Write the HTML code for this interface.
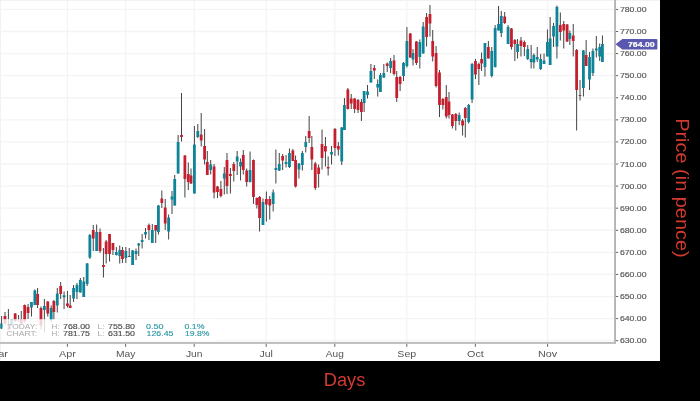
<!DOCTYPE html>
<html><head><meta charset="utf-8"><title>Chart</title>
<style>
html,body{margin:0;padding:0;background:#000;}
body{width:700px;height:401px;overflow:hidden;position:relative;font-family:"Liberation Sans",sans-serif;}
svg{position:absolute;left:0;top:0;display:block;}
.ax{font-family:"Liberation Sans",sans-serif;font-size:7px;fill:#555;stroke:#555;stroke-width:0.15px;}
.mo{font-family:"Liberation Sans",sans-serif;font-size:9.6px;fill:#555;}
.ttl{font-family:"Liberation Sans",sans-serif;font-size:18px;fill:#d23a30;}
.inf{font-family:"Liberation Sans",sans-serif;font-size:6.5px;}
.num{stroke-width:0.12px;}
</style></head><body>
<svg width="700" height="401" viewBox="0 0 700 401">
<rect x="0" y="0" width="700" height="401" fill="#000"/>
<rect x="0" y="0" width="660" height="361" fill="#fff"/>
<rect x="0" y="0" width="660" height="0.8" fill="#efefef"/>
<rect x="0" y="0" width="0.7" height="361" fill="#ececec"/>

<line x1="0" x2="614" y1="340.70" y2="340.70" stroke="#f4f4f4" stroke-width="1.3"/>
<line x1="0" x2="614" y1="318.62" y2="318.62" stroke="#f4f4f4" stroke-width="1.3"/>
<line x1="0" x2="614" y1="296.53" y2="296.53" stroke="#f4f4f4" stroke-width="1.3"/>
<line x1="0" x2="614" y1="274.44" y2="274.44" stroke="#f4f4f4" stroke-width="1.3"/>
<line x1="0" x2="614" y1="252.36" y2="252.36" stroke="#f4f4f4" stroke-width="1.3"/>
<line x1="0" x2="614" y1="230.27" y2="230.27" stroke="#f4f4f4" stroke-width="1.3"/>
<line x1="0" x2="614" y1="208.18" y2="208.18" stroke="#f4f4f4" stroke-width="1.3"/>
<line x1="0" x2="614" y1="186.10" y2="186.10" stroke="#f4f4f4" stroke-width="1.3"/>
<line x1="0" x2="614" y1="164.01" y2="164.01" stroke="#f4f4f4" stroke-width="1.3"/>
<line x1="0" x2="614" y1="141.92" y2="141.92" stroke="#f4f4f4" stroke-width="1.3"/>
<line x1="0" x2="614" y1="119.83" y2="119.83" stroke="#f4f4f4" stroke-width="1.3"/>
<line x1="0" x2="614" y1="97.75" y2="97.75" stroke="#f4f4f4" stroke-width="1.3"/>
<line x1="0" x2="614" y1="75.66" y2="75.66" stroke="#f4f4f4" stroke-width="1.3"/>
<line x1="0" x2="614" y1="53.57" y2="53.57" stroke="#f4f4f4" stroke-width="1.3"/>
<line x1="0" x2="614" y1="31.49" y2="31.49" stroke="#f4f4f4" stroke-width="1.3"/>
<line x1="0" x2="614" y1="9.40" y2="9.40" stroke="#f4f4f4" stroke-width="1.3"/>
<line x1="67.4" x2="67.4" y1="0" y2="342" stroke="#f4f4f4" stroke-width="1.3"/>
<line x1="125.6" x2="125.6" y1="0" y2="342" stroke="#f4f4f4" stroke-width="1.3"/>
<line x1="194.2" x2="194.2" y1="0" y2="342" stroke="#f4f4f4" stroke-width="1.3"/>
<line x1="266.2" x2="266.2" y1="0" y2="342" stroke="#f4f4f4" stroke-width="1.3"/>
<line x1="334.8" x2="334.8" y1="0" y2="342" stroke="#f4f4f4" stroke-width="1.3"/>
<line x1="406.8" x2="406.8" y1="0" y2="342" stroke="#f4f4f4" stroke-width="1.3"/>
<line x1="475.4" x2="475.4" y1="0" y2="342" stroke="#f4f4f4" stroke-width="1.3"/>
<line x1="547.6" x2="547.6" y1="0" y2="342" stroke="#f4f4f4" stroke-width="1.3"/>
<rect x="1.10" y="316.0" width="1" height="13.0" fill="#444"/>
<rect x="0.20" y="323.5" width="2.8" height="5.0" fill="#0f8397"/>
<rect x="4.49" y="312.0" width="1" height="12.0" fill="#444"/>
<rect x="3.59" y="316.0" width="2.8" height="7.5" fill="#c41f2e"/>
<rect x="7.89" y="309.0" width="1" height="21.0" fill="#444"/>
<rect x="6.99" y="328.5" width="2.8" height="1.0" fill="#c41f2e"/>
<rect x="11.28" y="319.0" width="1" height="7.0" fill="#444"/>
<rect x="10.38" y="319.3" width="2.8" height="4.7" fill="#0f8397"/>
<rect x="14.67" y="313.0" width="1" height="9.0" fill="#444"/>
<rect x="13.77" y="313.5" width="2.8" height="7.5" fill="#c41f2e"/>
<rect x="18.07" y="315.0" width="1" height="6.5" fill="#444"/>
<rect x="20.78" y="311.0" width="1" height="13.0" fill="#444"/>
<rect x="19.88" y="319.5" width="2.8" height="4.0" fill="#c41f2e"/>
<rect x="24.18" y="304.5" width="1" height="17.5" fill="#444"/>
<rect x="23.28" y="305.0" width="2.8" height="16.5" fill="#c41f2e"/>
<rect x="27.57" y="304.0" width="1" height="15.0" fill="#444"/>
<rect x="26.67" y="307.0" width="2.8" height="6.0" fill="#c41f2e"/>
<rect x="30.97" y="302.0" width="1" height="14.5" fill="#444"/>
<rect x="30.07" y="302.0" width="2.8" height="5.5" fill="#0f8397"/>
<rect x="34.36" y="289.5" width="1" height="15.5" fill="#444"/>
<rect x="33.46" y="290.5" width="2.8" height="14.5" fill="#0f8397"/>
<rect x="37.08" y="288.0" width="1" height="20.0" fill="#444"/>
<rect x="36.18" y="294.0" width="2.8" height="11.0" fill="#c41f2e"/>
<rect x="40.47" y="306.5" width="1" height="23.0" fill="#444"/>
<rect x="39.57" y="308.0" width="2.8" height="17.5" fill="#c41f2e"/>
<rect x="43.87" y="299.0" width="1" height="33.0" fill="#444"/>
<rect x="42.97" y="306.0" width="2.8" height="4.0" fill="#0f8397"/>
<rect x="47.26" y="301.0" width="1" height="15.5" fill="#444"/>
<rect x="46.36" y="301.5" width="2.8" height="12.0" fill="#c41f2e"/>
<rect x="50.66" y="305.5" width="1" height="16.5" fill="#444"/>
<rect x="49.76" y="308.0" width="2.8" height="12.0" fill="#0f8397"/>
<rect x="53.37" y="300.0" width="1" height="19.5" fill="#444"/>
<rect x="52.47" y="301.0" width="2.8" height="11.0" fill="#c41f2e"/>
<rect x="56.77" y="288.0" width="1" height="24.5" fill="#444"/>
<rect x="55.87" y="293.5" width="2.8" height="12.0" fill="#0f8397"/>
<rect x="60.16" y="282.0" width="1" height="17.0" fill="#444"/>
<rect x="59.26" y="286.0" width="2.8" height="8.0" fill="#c41f2e"/>
<rect x="63.56" y="291.5" width="1" height="17.5" fill="#444"/>
<rect x="62.66" y="295.3" width="2.8" height="2.0" fill="#0f8397"/>
<rect x="66.95" y="291.0" width="1" height="16.5" fill="#444"/>
<rect x="66.05" y="303.5" width="2.8" height="2.5" fill="#c41f2e"/>
<rect x="69.67" y="295.0" width="1" height="13.0" fill="#444"/>
<rect x="68.77" y="305.5" width="2.8" height="2.5" fill="#c41f2e"/>
<rect x="73.06" y="285.0" width="1" height="17.0" fill="#444"/>
<rect x="72.16" y="288.0" width="2.8" height="10.5" fill="#0f8397"/>
<rect x="76.45" y="283.0" width="1" height="16.0" fill="#444"/>
<rect x="75.55" y="285.0" width="2.8" height="7.0" fill="#0f8397"/>
<rect x="79.85" y="278.0" width="1" height="14.5" fill="#444"/>
<rect x="78.95" y="280.0" width="2.8" height="12.5" fill="#0f8397"/>
<rect x="83.24" y="277.0" width="1" height="20.0" fill="#444"/>
<rect x="82.34" y="281.5" width="2.8" height="15.5" fill="#0f8397"/>
<rect x="86.64" y="263.0" width="1" height="23.0" fill="#444"/>
<rect x="85.74" y="263.5" width="2.8" height="20.5" fill="#0f8397"/>
<rect x="89.35" y="234.0" width="1" height="25.0" fill="#444"/>
<rect x="88.45" y="235.0" width="2.8" height="22.5" fill="#0f8397"/>
<rect x="92.75" y="225.0" width="1" height="26.0" fill="#444"/>
<rect x="91.85" y="230.0" width="2.8" height="8.5" fill="#c41f2e"/>
<rect x="96.14" y="224.5" width="1" height="26.5" fill="#444"/>
<rect x="95.24" y="232.0" width="2.8" height="19.0" fill="#0f8397"/>
<rect x="99.54" y="228.5" width="1" height="24.5" fill="#444"/>
<rect x="98.64" y="232.0" width="2.8" height="19.0" fill="#c41f2e"/>
<rect x="102.93" y="248.0" width="1" height="29.5" fill="#444"/>
<rect x="102.03" y="265.0" width="2.8" height="2.0" fill="#c41f2e"/>
<rect x="105.65" y="240.0" width="1" height="23.5" fill="#444"/>
<rect x="104.75" y="241.5" width="2.8" height="12.5" fill="#c41f2e"/>
<rect x="109.04" y="234.0" width="1" height="27.5" fill="#444"/>
<rect x="108.14" y="234.0" width="2.8" height="20.0" fill="#c41f2e"/>
<rect x="112.44" y="243.0" width="1" height="12.0" fill="#444"/>
<rect x="111.54" y="243.0" width="2.8" height="7.0" fill="#c41f2e"/>
<rect x="115.83" y="247.0" width="1" height="8.5" fill="#444"/>
<rect x="114.93" y="252.0" width="2.8" height="3.0" fill="#0f8397"/>
<rect x="119.23" y="245.5" width="1" height="18.0" fill="#444"/>
<rect x="118.33" y="250.0" width="2.8" height="6.0" fill="#0f8397"/>
<rect x="121.94" y="247.0" width="1" height="16.0" fill="#444"/>
<rect x="121.04" y="250.0" width="2.8" height="9.0" fill="#c41f2e"/>
<rect x="125.34" y="247.0" width="1" height="16.0" fill="#444"/>
<rect x="124.44" y="251.0" width="2.8" height="7.0" fill="#0f8397"/>
<rect x="128.73" y="248.0" width="1" height="9.0" fill="#444"/>
<rect x="127.83" y="256.0" width="2.8" height="0.7" fill="#333"/>
<rect x="132.12" y="250.0" width="1" height="15.0" fill="#444"/>
<rect x="131.22" y="250.5" width="2.8" height="14.5" fill="#0f8397"/>
<rect x="135.52" y="248.5" width="1" height="11.5" fill="#444"/>
<rect x="134.62" y="251.0" width="2.8" height="3.0" fill="#0f8397"/>
<rect x="138.23" y="243.0" width="1" height="13.0" fill="#444"/>
<rect x="137.33" y="243.5" width="2.8" height="2.0" fill="#0f8397"/>
<rect x="141.63" y="234.0" width="1" height="14.5" fill="#444"/>
<rect x="140.73" y="240.0" width="2.8" height="2.0" fill="#0f8397"/>
<rect x="145.02" y="228.0" width="1" height="10.5" fill="#444"/>
<rect x="144.12" y="232.0" width="2.8" height="2.5" fill="#0f8397"/>
<rect x="148.42" y="223.5" width="1" height="16.5" fill="#444"/>
<rect x="147.52" y="225.0" width="2.8" height="5.0" fill="#c41f2e"/>
<rect x="151.81" y="224.0" width="1" height="19.0" fill="#444"/>
<rect x="150.91" y="230.0" width="2.8" height="13.0" fill="#0f8397"/>
<rect x="155.21" y="225.0" width="1" height="18.0" fill="#444"/>
<rect x="154.31" y="225.0" width="2.8" height="5.5" fill="#c41f2e"/>
<rect x="157.92" y="205.0" width="1" height="29.5" fill="#444"/>
<rect x="157.02" y="205.5" width="2.8" height="26.5" fill="#0f8397"/>
<rect x="161.32" y="190.5" width="1" height="17.5" fill="#444"/>
<rect x="160.42" y="198.5" width="2.8" height="4.5" fill="#c41f2e"/>
<rect x="164.71" y="199.0" width="1" height="31.0" fill="#444"/>
<rect x="163.81" y="207.5" width="2.8" height="16.0" fill="#c41f2e"/>
<rect x="168.11" y="214.5" width="1" height="25.0" fill="#444"/>
<rect x="167.21" y="217.5" width="2.8" height="14.0" fill="#0f8397"/>
<rect x="171.50" y="191.0" width="1" height="23.0" fill="#444"/>
<rect x="170.60" y="196.5" width="2.8" height="3.0" fill="#0f8397"/>
<rect x="174.22" y="175.0" width="1" height="30.5" fill="#444"/>
<rect x="173.32" y="179.0" width="2.8" height="26.5" fill="#0f8397"/>
<rect x="177.61" y="135.0" width="1" height="38.5" fill="#444"/>
<rect x="176.71" y="142.0" width="2.8" height="31.5" fill="#0f8397"/>
<rect x="181.01" y="93.0" width="1" height="48.5" fill="#444"/>
<rect x="180.11" y="135.0" width="2.8" height="2.0" fill="#c41f2e"/>
<rect x="184.40" y="155.0" width="1" height="42.5" fill="#444"/>
<rect x="183.50" y="155.5" width="2.8" height="23.5" fill="#c41f2e"/>
<rect x="187.79" y="162.5" width="1" height="27.5" fill="#444"/>
<rect x="186.89" y="174.0" width="2.8" height="8.0" fill="#c41f2e"/>
<rect x="190.51" y="168.5" width="1" height="15.5" fill="#444"/>
<rect x="189.61" y="175.5" width="2.8" height="8.0" fill="#c41f2e"/>
<rect x="193.90" y="126.0" width="1" height="67.5" fill="#444"/>
<rect x="193.00" y="144.5" width="2.8" height="49.0" fill="#0f8397"/>
<rect x="197.30" y="124.0" width="1" height="14.0" fill="#444"/>
<rect x="196.40" y="131.0" width="2.8" height="6.0" fill="#0f8397"/>
<rect x="200.69" y="113.0" width="1" height="33.5" fill="#444"/>
<rect x="199.79" y="134.5" width="2.8" height="6.0" fill="#c41f2e"/>
<rect x="204.09" y="129.0" width="1" height="35.5" fill="#444"/>
<rect x="203.19" y="146.0" width="2.8" height="13.5" fill="#c41f2e"/>
<rect x="206.80" y="151.0" width="1" height="24.0" fill="#444"/>
<rect x="205.90" y="162.0" width="2.8" height="13.0" fill="#c41f2e"/>
<rect x="210.20" y="160.0" width="1" height="14.5" fill="#444"/>
<rect x="209.30" y="164.5" width="2.8" height="5.5" fill="#0f8397"/>
<rect x="213.59" y="164.0" width="1" height="34.5" fill="#444"/>
<rect x="212.69" y="166.5" width="2.8" height="26.0" fill="#c41f2e"/>
<rect x="216.99" y="186.0" width="1" height="12.0" fill="#444"/>
<rect x="216.09" y="186.5" width="2.8" height="5.5" fill="#c41f2e"/>
<rect x="220.38" y="181.0" width="1" height="16.5" fill="#444"/>
<rect x="219.48" y="189.0" width="2.8" height="7.0" fill="#c41f2e"/>
<rect x="223.78" y="167.0" width="1" height="27.5" fill="#444"/>
<rect x="222.88" y="173.5" width="2.8" height="5.0" fill="#0f8397"/>
<rect x="226.49" y="153.0" width="1" height="41.0" fill="#444"/>
<rect x="225.59" y="160.0" width="2.8" height="26.0" fill="#c41f2e"/>
<rect x="229.89" y="168.0" width="1" height="25.5" fill="#444"/>
<rect x="228.99" y="174.0" width="2.8" height="2.0" fill="#c41f2e"/>
<rect x="233.28" y="162.0" width="1" height="19.5" fill="#444"/>
<rect x="232.38" y="164.0" width="2.8" height="7.0" fill="#c41f2e"/>
<rect x="236.68" y="151.0" width="1" height="24.0" fill="#444"/>
<rect x="235.78" y="156.5" width="2.8" height="5.0" fill="#0f8397"/>
<rect x="240.07" y="158.5" width="1" height="22.0" fill="#444"/>
<rect x="239.17" y="162.0" width="2.8" height="4.5" fill="#0f8397"/>
<rect x="242.79" y="150.0" width="1" height="24.5" fill="#444"/>
<rect x="241.89" y="155.0" width="2.8" height="15.0" fill="#c41f2e"/>
<rect x="246.18" y="168.5" width="1" height="18.0" fill="#444"/>
<rect x="245.28" y="170.5" width="2.8" height="11.5" fill="#c41f2e"/>
<rect x="249.57" y="151.5" width="1" height="31.0" fill="#444"/>
<rect x="248.67" y="170.0" width="2.8" height="12.0" fill="#0f8397"/>
<rect x="252.97" y="159.5" width="1" height="44.5" fill="#444"/>
<rect x="252.07" y="160.0" width="2.8" height="37.0" fill="#c41f2e"/>
<rect x="256.36" y="197.5" width="1" height="11.0" fill="#444"/>
<rect x="255.46" y="198.0" width="2.8" height="7.0" fill="#c41f2e"/>
<rect x="259.08" y="196.0" width="1" height="35.5" fill="#444"/>
<rect x="258.18" y="197.0" width="2.8" height="21.0" fill="#c41f2e"/>
<rect x="262.47" y="198.5" width="1" height="26.5" fill="#444"/>
<rect x="261.57" y="202.0" width="2.8" height="23.0" fill="#0f8397"/>
<rect x="265.87" y="191.5" width="1" height="30.0" fill="#444"/>
<rect x="264.97" y="199.0" width="2.8" height="5.5" fill="#c41f2e"/>
<rect x="269.26" y="196.0" width="1" height="23.5" fill="#444"/>
<rect x="268.36" y="199.0" width="2.8" height="6.5" fill="#c41f2e"/>
<rect x="272.66" y="189.5" width="1" height="22.0" fill="#444"/>
<rect x="271.76" y="192.5" width="2.8" height="11.5" fill="#0f8397"/>
<rect x="275.37" y="149.5" width="1" height="34.0" fill="#444"/>
<rect x="274.47" y="168.0" width="2.8" height="2.0" fill="#0f8397"/>
<rect x="278.77" y="153.0" width="1" height="18.0" fill="#444"/>
<rect x="277.87" y="164.0" width="2.8" height="6.5" fill="#0f8397"/>
<rect x="282.16" y="154.0" width="1" height="16.0" fill="#444"/>
<rect x="281.26" y="156.0" width="2.8" height="4.5" fill="#c41f2e"/>
<rect x="285.56" y="155.0" width="1" height="12.5" fill="#444"/>
<rect x="284.66" y="162.0" width="2.8" height="2.0" fill="#0f8397"/>
<rect x="288.95" y="148.5" width="1" height="19.5" fill="#444"/>
<rect x="288.05" y="153.0" width="2.8" height="14.0" fill="#0f8397"/>
<rect x="292.34" y="149.0" width="1" height="12.0" fill="#444"/>
<rect x="291.44" y="150.5" width="2.8" height="10.5" fill="#c41f2e"/>
<rect x="295.06" y="155.5" width="1" height="32.0" fill="#444"/>
<rect x="294.16" y="160.0" width="2.8" height="26.5" fill="#c41f2e"/>
<rect x="298.45" y="163.0" width="1" height="15.5" fill="#444"/>
<rect x="297.55" y="163.5" width="2.8" height="6.0" fill="#0f8397"/>
<rect x="301.85" y="151.0" width="1" height="19.5" fill="#444"/>
<rect x="300.95" y="153.0" width="2.8" height="12.0" fill="#0f8397"/>
<rect x="305.24" y="136.0" width="1" height="16.5" fill="#444"/>
<rect x="304.34" y="142.0" width="2.8" height="5.0" fill="#0f8397"/>
<rect x="308.64" y="116.0" width="1" height="27.0" fill="#444"/>
<rect x="307.74" y="131.0" width="2.8" height="7.0" fill="#c41f2e"/>
<rect x="311.35" y="136.0" width="1" height="34.0" fill="#444"/>
<rect x="310.45" y="147.0" width="2.8" height="12.5" fill="#c41f2e"/>
<rect x="314.75" y="162.0" width="1" height="28.0" fill="#444"/>
<rect x="313.85" y="163.5" width="2.8" height="24.5" fill="#c41f2e"/>
<rect x="318.14" y="164.5" width="1" height="23.0" fill="#444"/>
<rect x="317.24" y="167.5" width="2.8" height="6.5" fill="#c41f2e"/>
<rect x="321.54" y="129.5" width="1" height="40.0" fill="#444"/>
<rect x="320.64" y="144.0" width="2.8" height="14.0" fill="#c41f2e"/>
<rect x="324.93" y="137.0" width="1" height="29.5" fill="#444"/>
<rect x="324.03" y="146.0" width="2.8" height="5.5" fill="#c41f2e"/>
<rect x="327.65" y="156.5" width="1" height="19.0" fill="#444"/>
<rect x="326.75" y="167.0" width="2.8" height="1.5" fill="#c41f2e"/>
<rect x="331.04" y="146.0" width="1" height="18.5" fill="#444"/>
<rect x="330.14" y="152.0" width="2.8" height="2.5" fill="#0f8397"/>
<rect x="334.44" y="128.0" width="1" height="28.0" fill="#444"/>
<rect x="333.54" y="129.0" width="2.8" height="19.0" fill="#c41f2e"/>
<rect x="337.83" y="142.0" width="1" height="13.5" fill="#444"/>
<rect x="336.93" y="146.0" width="2.8" height="3.5" fill="#c41f2e"/>
<rect x="341.23" y="127.0" width="1" height="38.0" fill="#444"/>
<rect x="340.33" y="127.5" width="2.8" height="34.0" fill="#0f8397"/>
<rect x="343.94" y="98.0" width="1" height="32.0" fill="#444"/>
<rect x="343.04" y="105.0" width="2.8" height="25.0" fill="#0f8397"/>
<rect x="347.34" y="88.0" width="1" height="21.5" fill="#444"/>
<rect x="346.44" y="89.5" width="2.8" height="19.5" fill="#c41f2e"/>
<rect x="350.73" y="94.0" width="1" height="15.0" fill="#444"/>
<rect x="349.83" y="98.5" width="2.8" height="5.0" fill="#c41f2e"/>
<rect x="354.12" y="98.0" width="1" height="15.0" fill="#444"/>
<rect x="353.22" y="98.5" width="2.8" height="10.5" fill="#c41f2e"/>
<rect x="357.52" y="99.0" width="1" height="14.0" fill="#444"/>
<rect x="356.62" y="100.0" width="2.8" height="10.0" fill="#c41f2e"/>
<rect x="360.91" y="99.0" width="1" height="22.0" fill="#444"/>
<rect x="360.01" y="102.0" width="2.8" height="10.0" fill="#c41f2e"/>
<rect x="363.63" y="91.0" width="1" height="21.0" fill="#444"/>
<rect x="362.73" y="91.0" width="2.8" height="12.0" fill="#0f8397"/>
<rect x="367.02" y="85.0" width="1" height="13.5" fill="#444"/>
<rect x="366.12" y="91.5" width="2.8" height="3.5" fill="#0f8397"/>
<rect x="370.42" y="64.0" width="1" height="18.5" fill="#444"/>
<rect x="369.52" y="71.0" width="2.8" height="11.5" fill="#0f8397"/>
<rect x="373.81" y="65.0" width="1" height="14.0" fill="#444"/>
<rect x="372.91" y="68.0" width="2.8" height="2.5" fill="#c41f2e"/>
<rect x="377.21" y="79.5" width="1" height="17.0" fill="#444"/>
<rect x="376.31" y="84.0" width="2.8" height="3.5" fill="#0f8397"/>
<rect x="379.92" y="73.0" width="1" height="19.0" fill="#444"/>
<rect x="379.02" y="75.0" width="2.8" height="17.0" fill="#0f8397"/>
<rect x="383.32" y="64.0" width="1" height="14.0" fill="#444"/>
<rect x="382.42" y="73.0" width="2.8" height="4.5" fill="#0f8397"/>
<rect x="386.71" y="62.5" width="1" height="9.5" fill="#444"/>
<rect x="385.81" y="63.5" width="2.8" height="2.5" fill="#c41f2e"/>
<rect x="390.11" y="58.0" width="1" height="15.0" fill="#444"/>
<rect x="389.21" y="61.0" width="2.8" height="7.0" fill="#0f8397"/>
<rect x="393.50" y="55.0" width="1" height="20.5" fill="#444"/>
<rect x="392.60" y="60.5" width="2.8" height="13.5" fill="#c41f2e"/>
<rect x="396.22" y="71.0" width="1" height="31.0" fill="#444"/>
<rect x="395.32" y="77.0" width="2.8" height="21.0" fill="#c41f2e"/>
<rect x="399.61" y="76.0" width="1" height="15.0" fill="#444"/>
<rect x="398.71" y="77.0" width="2.8" height="7.0" fill="#c41f2e"/>
<rect x="403.01" y="62.0" width="1" height="19.0" fill="#444"/>
<rect x="402.11" y="63.0" width="2.8" height="13.0" fill="#0f8397"/>
<rect x="406.40" y="27.0" width="1" height="40.5" fill="#444"/>
<rect x="405.50" y="41.0" width="2.8" height="25.0" fill="#0f8397"/>
<rect x="409.79" y="33.0" width="1" height="25.0" fill="#444"/>
<rect x="408.89" y="33.5" width="2.8" height="24.0" fill="#c41f2e"/>
<rect x="412.51" y="49.0" width="1" height="16.5" fill="#444"/>
<rect x="411.61" y="53.0" width="2.8" height="6.5" fill="#0f8397"/>
<rect x="415.90" y="41.0" width="1" height="24.0" fill="#444"/>
<rect x="415.00" y="41.5" width="2.8" height="21.5" fill="#c41f2e"/>
<rect x="419.30" y="39.5" width="1" height="29.0" fill="#444"/>
<rect x="418.40" y="42.0" width="2.8" height="15.0" fill="#0f8397"/>
<rect x="422.69" y="22.0" width="1" height="31.5" fill="#444"/>
<rect x="421.79" y="26.5" width="2.8" height="27.0" fill="#0f8397"/>
<rect x="426.09" y="13.0" width="1" height="33.5" fill="#444"/>
<rect x="425.19" y="17.0" width="2.8" height="20.0" fill="#c41f2e"/>
<rect x="429.48" y="5.0" width="1" height="31.5" fill="#444"/>
<rect x="428.58" y="14.0" width="2.8" height="9.5" fill="#c41f2e"/>
<rect x="432.20" y="30.0" width="1" height="31.5" fill="#444"/>
<rect x="431.30" y="41.0" width="2.8" height="15.5" fill="#c41f2e"/>
<rect x="435.59" y="46.0" width="1" height="41.5" fill="#444"/>
<rect x="434.69" y="53.0" width="2.8" height="33.0" fill="#c41f2e"/>
<rect x="438.99" y="70.0" width="1" height="47.0" fill="#444"/>
<rect x="438.09" y="72.5" width="2.8" height="32.5" fill="#c41f2e"/>
<rect x="442.38" y="98.0" width="1" height="11.5" fill="#444"/>
<rect x="441.48" y="99.0" width="2.8" height="6.0" fill="#c41f2e"/>
<rect x="445.78" y="85.0" width="1" height="33.5" fill="#444"/>
<rect x="444.88" y="97.0" width="2.8" height="19.5" fill="#c41f2e"/>
<rect x="448.49" y="92.0" width="1" height="26.5" fill="#444"/>
<rect x="447.59" y="101.5" width="2.8" height="13.5" fill="#c41f2e"/>
<rect x="451.89" y="114.0" width="1" height="14.5" fill="#444"/>
<rect x="450.99" y="114.5" width="2.8" height="11.5" fill="#c41f2e"/>
<rect x="455.28" y="113.0" width="1" height="17.5" fill="#444"/>
<rect x="454.38" y="114.0" width="2.8" height="7.0" fill="#c41f2e"/>
<rect x="458.68" y="112.5" width="1" height="12.5" fill="#444"/>
<rect x="457.78" y="115.0" width="2.8" height="6.0" fill="#0f8397"/>
<rect x="462.07" y="119.0" width="1" height="16.5" fill="#444"/>
<rect x="461.17" y="120.5" width="2.8" height="5.0" fill="#c41f2e"/>
<rect x="464.79" y="107.0" width="1" height="30.5" fill="#444"/>
<rect x="463.89" y="108.0" width="2.8" height="10.0" fill="#c41f2e"/>
<rect x="468.18" y="104.0" width="1" height="19.5" fill="#444"/>
<rect x="467.28" y="105.0" width="2.8" height="17.0" fill="#0f8397"/>
<rect x="471.57" y="63.0" width="1" height="40.0" fill="#444"/>
<rect x="470.67" y="64.0" width="2.8" height="35.5" fill="#0f8397"/>
<rect x="474.97" y="59.0" width="1" height="20.0" fill="#444"/>
<rect x="474.07" y="61.0" width="2.8" height="13.5" fill="#c41f2e"/>
<rect x="478.36" y="62.5" width="1" height="22.5" fill="#444"/>
<rect x="477.46" y="64.0" width="2.8" height="5.0" fill="#c41f2e"/>
<rect x="481.08" y="52.5" width="1" height="18.5" fill="#444"/>
<rect x="480.18" y="59.0" width="2.8" height="4.5" fill="#c41f2e"/>
<rect x="484.47" y="43.0" width="1" height="33.5" fill="#444"/>
<rect x="483.57" y="43.0" width="2.8" height="24.0" fill="#0f8397"/>
<rect x="487.87" y="41.0" width="1" height="17.5" fill="#444"/>
<rect x="486.97" y="47.0" width="2.8" height="11.5" fill="#c41f2e"/>
<rect x="491.26" y="47.0" width="1" height="30.5" fill="#444"/>
<rect x="490.36" y="51.0" width="2.8" height="25.0" fill="#0f8397"/>
<rect x="494.66" y="25.0" width="1" height="42.5" fill="#444"/>
<rect x="493.76" y="28.0" width="2.8" height="39.0" fill="#0f8397"/>
<rect x="498.05" y="6.0" width="1" height="24.5" fill="#444"/>
<rect x="497.15" y="24.0" width="2.8" height="6.5" fill="#0f8397"/>
<rect x="500.77" y="11.0" width="1" height="26.0" fill="#444"/>
<rect x="499.87" y="16.0" width="2.8" height="17.0" fill="#0f8397"/>
<rect x="504.16" y="12.0" width="1" height="12.0" fill="#444"/>
<rect x="503.26" y="16.5" width="2.8" height="6.5" fill="#c41f2e"/>
<rect x="507.56" y="25.0" width="1" height="19.0" fill="#444"/>
<rect x="506.66" y="27.0" width="2.8" height="17.0" fill="#0f8397"/>
<rect x="510.95" y="28.0" width="1" height="21.5" fill="#444"/>
<rect x="510.05" y="28.5" width="2.8" height="18.5" fill="#c41f2e"/>
<rect x="514.35" y="39.0" width="1" height="22.0" fill="#444"/>
<rect x="513.45" y="40.0" width="2.8" height="4.0" fill="#c41f2e"/>
<rect x="517.06" y="39.0" width="1" height="19.5" fill="#444"/>
<rect x="516.16" y="44.0" width="2.8" height="8.0" fill="#0f8397"/>
<rect x="520.46" y="37.0" width="1" height="19.5" fill="#444"/>
<rect x="519.56" y="40.5" width="2.8" height="5.5" fill="#c41f2e"/>
<rect x="523.85" y="40.5" width="1" height="15.5" fill="#444"/>
<rect x="522.95" y="42.0" width="2.8" height="5.0" fill="#c41f2e"/>
<rect x="527.24" y="45.0" width="1" height="15.0" fill="#444"/>
<rect x="526.34" y="49.0" width="2.8" height="10.0" fill="#0f8397"/>
<rect x="530.64" y="45.0" width="1" height="23.5" fill="#444"/>
<rect x="529.74" y="59.0" width="2.8" height="3.0" fill="#0f8397"/>
<rect x="533.35" y="53.5" width="1" height="15.0" fill="#444"/>
<rect x="532.45" y="55.0" width="2.8" height="7.5" fill="#0f8397"/>
<rect x="536.75" y="47.0" width="1" height="15.0" fill="#444"/>
<rect x="535.85" y="57.0" width="2.8" height="2.5" fill="#0f8397"/>
<rect x="540.14" y="54.0" width="1" height="16.0" fill="#444"/>
<rect x="539.24" y="59.0" width="2.8" height="10.0" fill="#0f8397"/>
<rect x="543.54" y="53.5" width="1" height="10.5" fill="#444"/>
<rect x="542.64" y="60.5" width="2.8" height="3.5" fill="#0f8397"/>
<rect x="546.93" y="29.5" width="1" height="27.0" fill="#444"/>
<rect x="546.03" y="42.0" width="2.8" height="14.5" fill="#0f8397"/>
<rect x="549.65" y="17.0" width="1" height="48.0" fill="#444"/>
<rect x="548.75" y="38.5" width="2.8" height="26.5" fill="#0f8397"/>
<rect x="553.04" y="23.0" width="1" height="24.0" fill="#444"/>
<rect x="552.14" y="26.0" width="2.8" height="10.5" fill="#0f8397"/>
<rect x="556.44" y="5.5" width="1" height="53.0" fill="#444"/>
<rect x="555.54" y="7.0" width="2.8" height="39.5" fill="#0f8397"/>
<rect x="559.83" y="12.5" width="1" height="28.0" fill="#444"/>
<rect x="558.93" y="25.0" width="2.8" height="7.0" fill="#c41f2e"/>
<rect x="563.23" y="21.0" width="1" height="27.5" fill="#444"/>
<rect x="562.33" y="24.0" width="2.8" height="6.5" fill="#c41f2e"/>
<rect x="566.62" y="24.0" width="1" height="18.0" fill="#444"/>
<rect x="565.72" y="24.5" width="2.8" height="17.0" fill="#c41f2e"/>
<rect x="569.34" y="30.5" width="1" height="14.5" fill="#444"/>
<rect x="568.44" y="33.0" width="2.8" height="6.0" fill="#0f8397"/>
<rect x="572.73" y="24.0" width="1" height="32.5" fill="#444"/>
<rect x="571.83" y="35.5" width="2.8" height="5.5" fill="#c41f2e"/>
<rect x="576.12" y="49.0" width="1" height="81.5" fill="#444"/>
<rect x="575.22" y="50.0" width="2.8" height="40.0" fill="#c41f2e"/>
<rect x="579.52" y="80.0" width="1" height="20.5" fill="#444"/>
<rect x="578.62" y="95.2" width="2.8" height="0.7" fill="#333"/>
<rect x="582.91" y="50.0" width="1" height="46.5" fill="#444"/>
<rect x="582.01" y="50.5" width="2.8" height="37.5" fill="#0f8397"/>
<rect x="585.63" y="40.0" width="1" height="26.0" fill="#444"/>
<rect x="584.73" y="55.0" width="2.8" height="11.0" fill="#c41f2e"/>
<rect x="589.02" y="52.0" width="1" height="38.0" fill="#444"/>
<rect x="588.12" y="57.0" width="2.8" height="22.5" fill="#0f8397"/>
<rect x="592.42" y="48.5" width="1" height="27.5" fill="#444"/>
<rect x="591.52" y="51.0" width="2.8" height="22.0" fill="#0f8397"/>
<rect x="595.81" y="36.0" width="1" height="21.5" fill="#444"/>
<rect x="594.91" y="48.5" width="2.8" height="2.0" fill="#0f8397"/>
<rect x="599.21" y="43.5" width="1" height="17.5" fill="#444"/>
<rect x="598.31" y="47.0" width="2.8" height="9.5" fill="#0f8397"/>
<rect x="601.92" y="35.5" width="1" height="26.5" fill="#444"/>
<rect x="601.02" y="44.0" width="2.8" height="18.0" fill="#0f8397"/>
<rect x="2.4" y="319.2" width="215" height="22" fill="#fff" opacity="0.8"/>
<rect x="614.1" y="0" width="1.9" height="343.9" fill="#b4b4b4"/>
<rect x="0" y="342" width="616" height="1.9" fill="#bcbcbc"/>
<line x1="616" x2="618.2" y1="340.70" y2="340.70" stroke="#555" stroke-width="0.9"/>
<text class="ax" x="619.9" y="343.25" textLength="26.6" lengthAdjust="spacingAndGlyphs">630.00</text>
<line x1="616" x2="618.2" y1="318.62" y2="318.62" stroke="#555" stroke-width="0.9"/>
<text class="ax" x="619.9" y="321.17" textLength="26.6" lengthAdjust="spacingAndGlyphs">640.00</text>
<line x1="616" x2="618.2" y1="296.53" y2="296.53" stroke="#555" stroke-width="0.9"/>
<text class="ax" x="619.9" y="299.08" textLength="26.6" lengthAdjust="spacingAndGlyphs">650.00</text>
<line x1="616" x2="618.2" y1="274.44" y2="274.44" stroke="#555" stroke-width="0.9"/>
<text class="ax" x="619.9" y="276.99" textLength="26.6" lengthAdjust="spacingAndGlyphs">660.00</text>
<line x1="616" x2="618.2" y1="252.36" y2="252.36" stroke="#555" stroke-width="0.9"/>
<text class="ax" x="619.9" y="254.91" textLength="26.6" lengthAdjust="spacingAndGlyphs">670.00</text>
<line x1="616" x2="618.2" y1="230.27" y2="230.27" stroke="#555" stroke-width="0.9"/>
<text class="ax" x="619.9" y="232.82" textLength="26.6" lengthAdjust="spacingAndGlyphs">680.00</text>
<line x1="616" x2="618.2" y1="208.18" y2="208.18" stroke="#555" stroke-width="0.9"/>
<text class="ax" x="619.9" y="210.73" textLength="26.6" lengthAdjust="spacingAndGlyphs">690.00</text>
<line x1="616" x2="618.2" y1="186.10" y2="186.10" stroke="#555" stroke-width="0.9"/>
<text class="ax" x="619.9" y="188.65" textLength="26.6" lengthAdjust="spacingAndGlyphs">700.00</text>
<line x1="616" x2="618.2" y1="164.01" y2="164.01" stroke="#555" stroke-width="0.9"/>
<text class="ax" x="619.9" y="166.56" textLength="26.6" lengthAdjust="spacingAndGlyphs">710.00</text>
<line x1="616" x2="618.2" y1="141.92" y2="141.92" stroke="#555" stroke-width="0.9"/>
<text class="ax" x="619.9" y="144.47" textLength="26.6" lengthAdjust="spacingAndGlyphs">720.00</text>
<line x1="616" x2="618.2" y1="119.83" y2="119.83" stroke="#555" stroke-width="0.9"/>
<text class="ax" x="619.9" y="122.38" textLength="26.6" lengthAdjust="spacingAndGlyphs">730.00</text>
<line x1="616" x2="618.2" y1="97.75" y2="97.75" stroke="#555" stroke-width="0.9"/>
<text class="ax" x="619.9" y="100.30" textLength="26.6" lengthAdjust="spacingAndGlyphs">740.00</text>
<line x1="616" x2="618.2" y1="75.66" y2="75.66" stroke="#555" stroke-width="0.9"/>
<text class="ax" x="619.9" y="78.21" textLength="26.6" lengthAdjust="spacingAndGlyphs">750.00</text>
<line x1="616" x2="618.2" y1="53.57" y2="53.57" stroke="#555" stroke-width="0.9"/>
<text class="ax" x="619.9" y="56.12" textLength="26.6" lengthAdjust="spacingAndGlyphs">760.00</text>
<line x1="616" x2="618.2" y1="31.49" y2="31.49" stroke="#555" stroke-width="0.9"/>
<text class="ax" x="619.9" y="34.04" textLength="26.6" lengthAdjust="spacingAndGlyphs">770.00</text>
<line x1="616" x2="618.2" y1="9.40" y2="9.40" stroke="#555" stroke-width="0.9"/>
<text class="ax" x="619.9" y="11.95" textLength="26.6" lengthAdjust="spacingAndGlyphs">780.00</text>
<text class="mo" x="-11.00" y="356.8" textLength="19" lengthAdjust="spacingAndGlyphs">Mar</text>
<line x1="67.4" x2="67.4" y1="343.9" y2="346.8" stroke="#555" stroke-width="0.9"/>
<text class="mo" x="59.00" y="356.8" textLength="16.8" lengthAdjust="spacingAndGlyphs">Apr</text>
<line x1="125.6" x2="125.6" y1="343.9" y2="346.8" stroke="#555" stroke-width="0.9"/>
<text class="mo" x="115.90" y="356.8" textLength="19.4" lengthAdjust="spacingAndGlyphs">May</text>
<line x1="194.2" x2="194.2" y1="343.9" y2="346.8" stroke="#555" stroke-width="0.9"/>
<text class="mo" x="185.90" y="356.8" textLength="16.6" lengthAdjust="spacingAndGlyphs">Jun</text>
<line x1="266.2" x2="266.2" y1="343.9" y2="346.8" stroke="#555" stroke-width="0.9"/>
<text class="mo" x="259.50" y="356.8" textLength="13.4" lengthAdjust="spacingAndGlyphs">Jul</text>
<line x1="334.8" x2="334.8" y1="343.9" y2="346.8" stroke="#555" stroke-width="0.9"/>
<text class="mo" x="325.80" y="356.8" textLength="18" lengthAdjust="spacingAndGlyphs">Aug</text>
<line x1="406.8" x2="406.8" y1="343.9" y2="346.8" stroke="#555" stroke-width="0.9"/>
<text class="mo" x="397.35" y="356.8" textLength="18.9" lengthAdjust="spacingAndGlyphs">Sep</text>
<line x1="475.4" x2="475.4" y1="343.9" y2="346.8" stroke="#555" stroke-width="0.9"/>
<text class="mo" x="467.00" y="356.8" textLength="16.8" lengthAdjust="spacingAndGlyphs">Oct</text>
<line x1="547.6" x2="547.6" y1="343.9" y2="346.8" stroke="#555" stroke-width="0.9"/>
<text class="mo" x="538.00" y="356.8" textLength="19.2" lengthAdjust="spacingAndGlyphs">Nov</text>
<path d="M615.5 44.3 L622.3 39 L656.2 39 Q657.4 39 657.4 40.2 L657.4 48.4 Q657.4 49.6 656.2 49.6 L622.3 49.6 Z" fill="#5a58ae"/>
<text class="ax" x="628" y="46.9" textLength="26.6" lengthAdjust="spacingAndGlyphs" style="fill:#fff;stroke:#fff;stroke-width:0.2px;font-weight:bold">764.00</text>
<text class="inf" x="7.3" y="328.9" textLength="30" lengthAdjust="spacingAndGlyphs" fill="#aaa">TODAY:</text>
<text class="inf" x="6.2" y="335.8" textLength="31" lengthAdjust="spacingAndGlyphs" fill="#aaa">CHART:</text>
<text class="inf" x="51.5" y="328.9" textLength="8" lengthAdjust="spacingAndGlyphs" fill="#aaa">H:</text>
<text stroke="#4a4a4a" class="inf num" x="63" y="328.9" textLength="27" lengthAdjust="spacingAndGlyphs" fill="#4a4a4a">768.00</text>
<text class="inf" x="51.5" y="335.8" textLength="8" lengthAdjust="spacingAndGlyphs" fill="#aaa">H:</text>
<text stroke="#4a4a4a" class="inf num" x="63" y="335.8" textLength="27" lengthAdjust="spacingAndGlyphs" fill="#4a4a4a">781.75</text>
<text class="inf" x="97.5" y="328.9" textLength="7" lengthAdjust="spacingAndGlyphs" fill="#aaa">L:</text>
<text stroke="#4a4a4a" class="inf num" x="108" y="328.9" textLength="27" lengthAdjust="spacingAndGlyphs" fill="#4a4a4a">755.80</text>
<text class="inf" x="97.5" y="335.8" textLength="7" lengthAdjust="spacingAndGlyphs" fill="#aaa">L:</text>
<text stroke="#4a4a4a" class="inf num" x="108" y="335.8" textLength="27" lengthAdjust="spacingAndGlyphs" fill="#4a4a4a">631.50</text>
<text stroke="#2a96a6" class="inf num" x="146" y="328.9" textLength="17.5" lengthAdjust="spacingAndGlyphs" fill="#2a96a6">0.50</text>
<text stroke="#2a96a6" class="inf num" x="146.5" y="335.8" textLength="27" lengthAdjust="spacingAndGlyphs" fill="#2a96a6">126.45</text>
<text stroke="#2a96a6" class="inf num" x="184.5" y="328.9" textLength="20" lengthAdjust="spacingAndGlyphs" fill="#2a96a6">0.1%</text>
<text stroke="#2a96a6" class="inf num" x="185" y="335.8" textLength="24.5" lengthAdjust="spacingAndGlyphs" fill="#2a96a6">19.8%</text>
<text class="ttl" x="344.5" y="386" text-anchor="middle" textLength="41.5" lengthAdjust="spacingAndGlyphs">Days</text>
<text class="ttl" transform="translate(675.6,118.2) rotate(90)" textLength="139.5" lengthAdjust="spacingAndGlyphs">Price (in pence)</text>
</svg></body></html>
